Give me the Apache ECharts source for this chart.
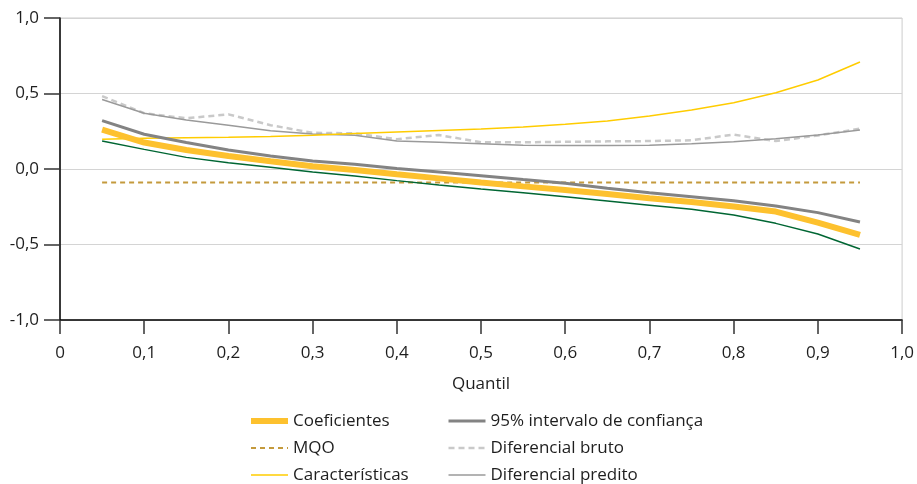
<!DOCTYPE html>
<html>
<head>
<meta charset="utf-8">
<script src="https://cdn.jsdelivr.net/npm/echarts@6/dist/echarts.min.js"></script>
<style>
  html, body { margin: 0; padding: 0; background: #fff; }
  #chart { width: 917px; height: 484px; }
</style>
</head>
<body>
<div id="chart"></div>
<script>
// Quantis estimados
const quantis = [0.05, 0.10, 0.15, 0.20, 0.25, 0.30, 0.35, 0.40, 0.45, 0.50,
                 0.55, 0.60, 0.65, 0.70, 0.75, 0.80, 0.85, 0.90, 0.95];

const coeficientes = [0.260, 0.175, 0.126, 0.086, 0.051, 0.018, -0.007, -0.035, -0.062, -0.090,
                      -0.115, -0.139, -0.166, -0.194, -0.219, -0.248, -0.282, -0.355, -0.437];
const icSuperior   = [0.320, 0.230, 0.175, 0.126, 0.086, 0.053, 0.031, 0.004, -0.020, -0.044,
                      -0.070, -0.095, -0.128, -0.157, -0.183, -0.210, -0.245, -0.289, -0.351];
const icInferior   = [0.185, 0.130, 0.077, 0.042, 0.011, -0.020, -0.046, -0.077, -0.106, -0.132,
                      -0.157, -0.183, -0.212, -0.240, -0.267, -0.305, -0.360, -0.430, -0.530];
const mqo          = [-0.09, -0.09, -0.09, -0.09, -0.09, -0.09, -0.09, -0.09, -0.09, -0.09,
                      -0.09, -0.09, -0.09, -0.09, -0.09, -0.09, -0.09, -0.09, -0.09];
const caracteristicas = [0.197, 0.203, 0.207, 0.210, 0.215, 0.223, 0.235, 0.245, 0.255, 0.265,
                         0.278, 0.296, 0.318, 0.351, 0.391, 0.439, 0.505, 0.589, 0.709];
const difBruto     = [0.483, 0.369, 0.336, 0.362, 0.290, 0.240, 0.236, 0.197, 0.225, 0.177,
                      0.177, 0.180, 0.183, 0.185, 0.190, 0.228, 0.185, 0.222, 0.267];
const difPredito   = [0.460, 0.369, 0.325, 0.290, 0.254, 0.232, 0.223, 0.185, 0.177, 0.168,
                      0.158, 0.155, 0.155, 0.158, 0.168, 0.180, 0.200, 0.225, 0.258];

const xTicks = { 0: '0', 1: '1,0' };
const fmt = v => {
  const r = Math.round(v * 10) / 10;
  if (xTicks[r] !== undefined) return xTicks[r];
  return r.toFixed(1).replace('.', ',');
};
const fmtY = v => (Math.round(v * 10) / 10).toFixed(1).replace('.', ',');

const pairs = arr => quantis.map((q, i) => [q, arr[i]]);

const FONT = '"Open Sans", "Noto Sans", sans-serif';
const TXT = '#1e1e1e';

// estilo de cada série: cor, espessura, tracejado
const estilos = {
  'MQO':                        { color: '#c49a3c', width: 2,   type: [5, 4] },
  'Diferencial bruto':          { color: '#c9c9c9', width: 2.5, type: [6, 4] },
  'Diferencial predito':        { color: '#9a9a9a', width: 1.5, type: 'solid' },
  'Características':            { color: '#ffcc00', width: 1.5, type: 'solid' },
  '95% intervalo de confiança': { color: '#838383', width: 3,   type: 'solid' },
  'Limite inferior':            { color: '#006633', width: 1.5, type: 'solid' },
  'Coeficientes':               { color: '#fdc12e', width: 6,   type: 'solid' }
};

const chart = echarts.init(document.getElementById('chart'), null, { renderer: 'canvas' });

const line = (name, data, z) => {
  const s = estilos[name];
  return {
    name, type: 'line', data: pairs(data), symbol: 'none', smooth: false,
    lineStyle: { color: s.color, width: s.width, type: s.type }, itemStyle: { color: s.color }, z,
    emphasis: { disabled: true }, animation: false
  };
};

const legendItem = name => {
  const s = estilos[name];
  return { name, lineStyle: { color: s.color, width: s.width, type: s.type } };
};

const legendBase = {
  orient: 'vertical', top: 412, padding: 0, itemGap: 9, itemWidth: 37, itemHeight: 18,
  selectedMode: false,
  itemStyle: { opacity: 0 },
  textStyle: { fontFamily: FONT, fontSize: 17, color: TXT, lineHeight: 18 }
};

chart.setOption({
  animation: false,
  grid: { left: 60, right: 13, top: 18, bottom: 164, show: true, borderColor: '#cccccc', borderWidth: 1 },
  xAxis: {
    type: 'value', min: 0, max: 1, interval: 0.1,
    name: 'Quantil', nameLocation: 'middle', nameGap: 56,
    nameTextStyle: { fontFamily: FONT, fontSize: 17, color: TXT },
    axisLine: { onZero: false, lineStyle: { color: '#000', width: 1.5 } },
    axisTick: { show: true, length: 14, lineStyle: { color: '#333', width: 1.5 } },
    axisLabel: { fontFamily: FONT, fontSize: 17, color: TXT, margin: 25, formatter: fmt },
    splitLine: { show: false }
  },
  yAxis: {
    type: 'value', min: -1, max: 1, interval: 0.5,
    axisLine: { show: true, lineStyle: { color: '#000', width: 1.5 } },
    axisTick: { show: true, length: 16, lineStyle: { color: '#333', width: 1.5 } },
    axisLabel: { fontFamily: FONT, fontSize: 17, color: TXT, margin: 21, formatter: fmtY },
    splitLine: { show: true, lineStyle: { color: '#d4d4d4', width: 1.2 } }
  },
  legend: [
    Object.assign({}, legendBase, {
      left: 248,
      data: ['Coeficientes', 'MQO', 'Características'].map(legendItem)
    }),
    Object.assign({}, legendBase, {
      left: 447,
      data: ['95% intervalo de confiança', 'Diferencial bruto', 'Diferencial predito'].map(legendItem)
    })
  ],
  series: [
    line('MQO', mqo, 2),
    line('Diferencial bruto', difBruto, 2),
    line('Diferencial predito', difPredito, 3),
    line('Características', caracteristicas, 3),
    line('95% intervalo de confiança', icSuperior, 4),
    line('Limite inferior', icInferior, 4),
    line('Coeficientes', coeficientes, 5)
  ]
});
</script>
</body>
</html>
